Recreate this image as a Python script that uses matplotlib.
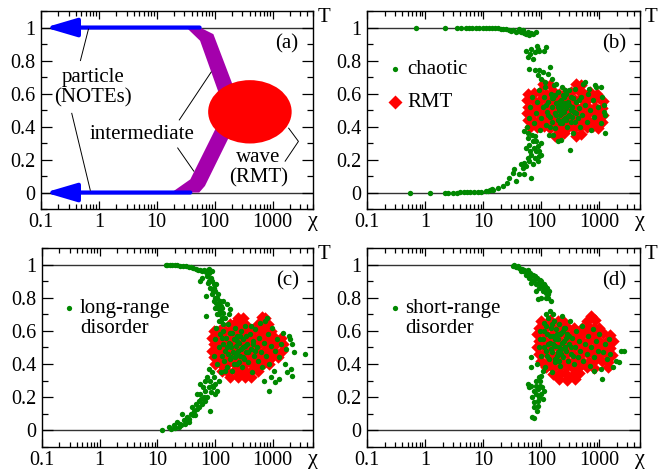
import numpy as np
import matplotlib
matplotlib.use("Agg")
import matplotlib.pyplot as plt
from matplotlib.patches import Ellipse, Polygon
from matplotlib.ticker import LogLocator, NullFormatter, MultipleLocator

plt.rcParams['font.family'] = ['Liberation Serif', 'DejaVu Serif']
plt.rcParams['font.size'] = 14.5

GREEN = '#008800'
RED = '#ff0000'
BLUE = '#0000ff'
PURPLE = '#a400ac'
SERIF = ['Liberation Serif', 'DejaVu Serif']

# ---- panel (a): schematic ----
a_band_upper = [(32.5, 1.0), (56, 1.0), (95, 0.96), (300, 0.5), (150, 0.5), (56, 0.92)]
a_band_lower = [(18, 0.0), (54, 0.0), (68, 0.04), (300, 0.5), (150, 0.5), (38, 0.08)]
a_arrow_top_end = 55
a_arrow_bottom_end = 38

# ---- panel (b): chaotic ----
b_green = [
    # T ~ 1
    (0.7, 1.0), (2.2, 1.0), (3.5, 1.0), (4.2, 1.0), (5.0, 1.0), (5.8, 1.0), (6.5, 1.0), (7.5, 1.0),
    (8.5, 1.0), (10, 1.0), (11, 0.998), (12.5, 0.998), (14, 0.997), (16, 0.996), (18, 0.995),
    (20, 0.993), (22, 0.99), (25, 0.99), (28, 0.985), (30, 0.98), (33, 0.985), (36, 0.975),
    (40, 0.98), (42, 0.99), (45, 0.97), (48, 0.985), (50, 0.965), (55, 0.96), (58, 0.975),
    (62, 0.955), (66, 0.965), (72, 0.96), (80, 0.97),
    # T ~ 0
    (0.55, 0.0), (1.2, 0.0), (2.2, 0.0), (2.5, 0.0), (3.0, 0.0), (3.6, 0.0), (4.0, 0.002),
    (4.6, 0.002), (5.2, 0.003), (6.0, 0.003), (7.0, 0.004), (8.0, 0.005), (9.0, 0.006),
    (11, 0.008), (12, 0.012), (13, 0.018), (14, 0.022), (15, 0.015), (18, 0.03),
    # rising branch
    (22, 0.04), (26, 0.058), (28, 0.088), (32, 0.118), (34, 0.14), (37, 0.07), (42, 0.11),
    (45, 0.17), (48, 0.15), (51, 0.18), (51, 0.11), (55, 0.16), (58, 0.21), (62, 0.19),
    (67, 0.23), (67, 0.09), (71, 0.17), (77, 0.21), (82, 0.25), (87, 0.19), (55, 0.27),
    (62, 0.29), (58, 0.33), (71, 0.31), (82, 0.31), (87, 0.28), (93, 0.25), (100, 0.30),
    (51, 0.37), (100, 0.23), (75, 0.27), (65, 0.25), (90, 0.22), (60, 0.36), (70, 0.35),
    (78, 0.34), (57, 0.40),
    # falling branch
    (55, 0.86), (58, 0.82), (67, 0.87), (77, 0.85), (87, 0.87), (93, 0.86), (122, 0.88),
    (71, 0.81), (62, 0.75), (77, 0.74), (93, 0.74), (107, 0.73), (140, 0.76), (131, 0.72),
    (87, 0.71), (100, 0.69), (114, 0.67), (150, 0.69), (85, 0.89), (110, 0.86), (65, 0.84),
    # cloud
    (62, 0.45), (65, 0.52), (70, 0.58), (75, 0.42), (80, 0.48), (85, 0.55), (90, 0.62),
    (95, 0.38), (100, 0.45), (105, 0.52), (110, 0.58), (115, 0.64), (120, 0.41), (125, 0.49),
    (130, 0.55), (135, 0.35), (140, 0.46), (145, 0.60), (150, 0.52), (155, 0.43), (160, 0.57),
    (165, 0.65), (170, 0.48), (175, 0.39), (180, 0.54), (190, 0.44), (195, 0.61), (200, 0.50),
    (210, 0.47), (215, 0.56), (220, 0.32), (225, 0.42), (230, 0.53), (240, 0.59), (250, 0.49),
    (255, 0.45), (260, 0.62), (270, 0.51), (280, 0.40), (290, 0.55), (300, 0.47), (310, 0.26),
    (320, 0.58), (330, 0.43), (340, 0.52), (350, 0.36), (360, 0.49), (380, 0.63), (400, 0.55),
    (420, 0.45), (440, 0.51), (460, 0.40), (480, 0.58), (500, 0.47), (530, 0.66), (560, 0.53),
    (600, 0.43), (630, 0.60), (680, 0.50), (720, 0.38), (760, 0.56), (820, 0.46), (880, 0.64),
    (950, 0.52), (1050, 0.42), (1100, 0.58), (1200, 0.49), (1260, 0.36), (195, 0.31),
    (850, 0.65), (570, 0.67), (1050, 0.64), (650, 0.63), (1200, 0.53), (1260, 0.47),
    (230, 0.64), (180, 0.66), (140, 0.40), (270, 0.60), (350, 0.57), (160, 0.35), (300, 0.62),
    (200, 0.55), (250, 0.58), (320, 0.50), (280, 0.46), (220, 0.51), (180, 0.47), (400, 0.48),
    (150, 0.57), (120, 0.53), (240, 0.44), (190, 0.52), (260, 0.54), (210, 0.42), (340, 0.46),
    (170, 0.59), (300, 0.53), (380, 0.43), (230, 0.48), (450, 0.56), (130, 0.47), (270, 0.44),
]
b_rmt = [
    (107, 0.655), (140, 0.65), (400, 0.655), (480, 0.65),
    (60, 0.60), (75, 0.605), (95, 0.61), (120, 0.60), (160, 0.615), (200, 0.60), (260, 0.605),
    (330, 0.61), (420, 0.62), (550, 0.60), (700, 0.61), (900, 0.595),
    (57, 0.56), (70, 0.565), (90, 0.555), (115, 0.57), (150, 0.56), (190, 0.565), (240, 0.555),
    (300, 0.57), (380, 0.56), (480, 0.575), (620, 0.56), (800, 0.565), (1000, 0.57), (1150, 0.555),
    (58, 0.52), (75, 0.515), (95, 0.525), (120, 0.52), (155, 0.51), (200, 0.525), (250, 0.52),
    (320, 0.515), (400, 0.52), (520, 0.525), (650, 0.515), (850, 0.52), (1100, 0.51),
    (57, 0.48), (70, 0.475), (90, 0.485), (115, 0.48), (150, 0.475), (190, 0.49), (240, 0.48),
    (300, 0.475), (380, 0.485), (480, 0.48), (620, 0.475), (800, 0.485), (1000, 0.48), (1150, 0.47),
    (60, 0.44), (75, 0.435), (95, 0.445), (120, 0.44), (160, 0.43), (200, 0.445), (260, 0.44),
    (330, 0.435), (420, 0.445), (550, 0.44), (700, 0.43), (900, 0.44), (1100, 0.425),
    (65, 0.40), (85, 0.395), (110, 0.405), (140, 0.39), (180, 0.40), (230, 0.395), (290, 0.40),
    (370, 0.39), (470, 0.40), (600, 0.395), (780, 0.405), (950, 0.39),
    (170, 0.345), (200, 0.35), (250, 0.36), (400, 0.345), (480, 0.355),
]

# ---- panel (c): long-range disorder ----
c_green = [
    (13.9, 1.0), (15, 1.0), (16.5, 0.998), (18, 0.997), (20, 0.996), (22, 0.995), (25, 0.993),
    (28, 0.99), (31, 0.99), (35, 0.985), (38, 0.983), (42, 0.98), (46, 0.975), (50, 0.97),
    (55, 0.968), (60, 0.96), (65, 0.965), (70, 0.955), (75, 0.97), (80, 0.95), (85, 0.96),
    (89, 0.96), (78, 0.975),
    (60, 0.92), (56, 0.90), (73, 0.93), (77, 0.89), (89, 0.90), (95, 0.88), (83, 0.86),
    (101, 0.84), (89, 0.82), (108, 0.80), (95, 0.78), (115, 0.76), (101, 0.74), (123, 0.72),
    (108, 0.70), (131, 0.68), (115, 0.66), (140, 0.78), (161, 0.76), (184, 0.73), (172, 0.70),
    (150, 0.68), (69, 0.69), (85, 0.92), (92, 0.84), (100, 0.80), (110, 0.74), (120, 0.78),
    (130, 0.74), (125, 0.66), (140, 0.64), (70, 0.81), (105, 0.88), (118, 0.70),
    (96, 0.86), (112, 0.82), (104, 0.77), (126, 0.75), (135, 0.71), (80, 0.90),
    (12.2, 0.0), (15.9, 0.02), (17, 0.01), (19.4, 0.03), (22, 0.05), (25, 0.04), (27, 0.10),
    (29, 0.06), (33, 0.08), (35, 0.05), (38, 0.10), (40, 0.14), (43, 0.12), (46, 0.16),
    (49, 0.13), (52, 0.18), (56, 0.22), (60, 0.16), (64, 0.20), (68, 0.24), (73, 0.20),
    (78, 0.26), (83, 0.30), (89, 0.27), (95, 0.32), (101, 0.28), (108, 0.24), (73, 0.32),
    (68, 0.30), (56, 0.28), (83, 0.12), (49, 0.22), (30, 0.04), (24, 0.02), (20, 0.015),
    (45, 0.09), (62, 0.26), (90, 0.35), (78, 0.37), (100, 0.22), (115, 0.30),
    (26, 0.03), (32, 0.06), (36, 0.07), (42, 0.09), (53, 0.14), (58, 0.19), (66, 0.18),
    (86, 0.23), (94, 0.26),
    (95, 0.45), (100, 0.55), (105, 0.62), (110, 0.40), (115, 0.50), (120, 0.58), (125, 0.35),
    (130, 0.45), (135, 0.52), (140, 0.60), (145, 0.42), (150, 0.48), (155, 0.56), (160, 0.38),
    (165, 0.64), (170, 0.46), (175, 0.53), (180, 0.43), (185, 0.59), (190, 0.50), (200, 0.36),
    (205, 0.47), (210, 0.55), (220, 0.62), (225, 0.44), (230, 0.51), (240, 0.40), (245, 0.57),
    (250, 0.48), (260, 0.53), (270, 0.45), (280, 0.60), (290, 0.38), (300, 0.50), (310, 0.55),
    (320, 0.43), (335, 0.63), (350, 0.47), (365, 0.52), (380, 0.41), (400, 0.58), (420, 0.49),
    (440, 0.35), (460, 0.54), (480, 0.45), (500, 0.61), (530, 0.50), (560, 0.42), (590, 0.56),
    (620, 0.47), (660, 0.38), (700, 0.53), (740, 0.66), (780, 0.45), (820, 0.58), (870, 0.40),
    (920, 0.51), (980, 0.62), (1050, 0.36), (1100, 0.48), (1200, 0.55), (1300, 0.44),
    (1400, 0.52), (1500, 0.59), (1650, 0.40), (1800, 0.35), (2070, 0.37), (2200, 0.33),
    (2350, 0.47), (3700, 0.46), (850, 0.24), (1100, 0.29), (1300, 0.31), (2000, 0.55),
    (2200, 0.52), (1900, 0.57), (700, 0.30), (950, 0.32), (1700, 0.49), (600, 0.65),
    (800, 0.68), (150, 0.36), (200, 0.59), (260, 0.41), (350, 0.57), (420, 0.63), (180, 0.52),
    (230, 0.46), (300, 0.44), (500, 0.48), (130, 0.56), (190, 0.44), (240, 0.54), (280, 0.49),
    (330, 0.51), (160, 0.50), (210, 0.40), (380, 0.47), (450, 0.52), (270, 0.57),
]
c_rmt = [
    (250, 0.675), (300, 0.68), (650, 0.685), (750, 0.68),
    (180, 0.64), (220, 0.645), (280, 0.64), (340, 0.635), (560, 0.64), (680, 0.645), (820, 0.64),
    (95, 0.60), (120, 0.605), (150, 0.60), (200, 0.61), (250, 0.60), (320, 0.605), (400, 0.60),
    (500, 0.61), (620, 0.60), (780, 0.605), (950, 0.60),
    (90, 0.56), (110, 0.565), (140, 0.555), (180, 0.56), (230, 0.565), (290, 0.555), (360, 0.56),
    (450, 0.565), (560, 0.555), (700, 0.56), (880, 0.565), (1100, 0.555), (1400, 0.56),
    (95, 0.52), (120, 0.515), (150, 0.525), (190, 0.52), (240, 0.515), (300, 0.525), (380, 0.52),
    (480, 0.515), (600, 0.525), (750, 0.52), (950, 0.515), (1200, 0.525), (1500, 0.52),
    (90, 0.48), (110, 0.485), (140, 0.475), (180, 0.48), (230, 0.485), (290, 0.475), (360, 0.48),
    (450, 0.485), (560, 0.475), (700, 0.48), (880, 0.485), (1100, 0.475), (1450, 0.48),
    (95, 0.44), (120, 0.435), (150, 0.445), (200, 0.44), (250, 0.435), (320, 0.445), (400, 0.44),
    (500, 0.435), (620, 0.445), (780, 0.44), (950, 0.435), (1250, 0.44),
    (100, 0.40), (130, 0.395), (170, 0.405), (220, 0.40), (280, 0.395), (350, 0.405), (440, 0.40),
    (550, 0.395), (700, 0.405), (880, 0.40),
    (130, 0.36), (170, 0.355), (220, 0.365), (280, 0.36), (350, 0.355), (440, 0.365), (550, 0.36),
    (180, 0.325), (250, 0.32), (330, 0.325), (420, 0.32),
]

# ---- panel (d): short-range disorder ----
d_green = [
    (32, 0.99), (34, 0.995), (36, 0.985), (39, 0.99), (41, 0.98), (44, 0.96), (47, 0.975),
    (50, 0.97), (54, 0.94), (58, 0.95), (62, 0.92), (66, 0.93), (70, 0.90), (75, 0.91),
    (80, 0.88), (86, 0.89), (92, 0.86), (98, 0.87), (105, 0.84), (112, 0.85), (120, 0.83),
    (128, 0.82), (86, 0.79), (98, 0.80), (120, 0.80), (137, 0.84), (80, 0.84), (66, 0.89),
    (146, 0.78), (55, 0.96), (60, 0.97), (72, 0.94), (85, 0.92), (100, 0.90), (110, 0.88),
    (125, 0.86), (48, 0.96), (64, 0.95), (78, 0.93), (94, 0.91), (115, 0.87), (132, 0.80),
    (58, 0.28), (62, 0.26), (66, 0.27), (75, 0.24), (80, 0.22), (86, 0.25), (70, 0.20),
    (75, 0.17), (92, 0.20), (98, 0.22), (105, 0.19), (86, 0.15), (75, 0.14), (70, 0.08),
    (112, 0.24), (92, 0.32), (80, 0.30), (66, 0.44), (66, 0.38), (74, 0.075), (85, 0.12),
    (95, 0.27), (100, 0.33), (88, 0.18), (82, 0.27), (96, 0.30), (104, 0.26),
    (85, 0.40), (90, 0.50), (95, 0.60), (100, 0.45), (105, 0.55), (110, 0.65), (115, 0.38),
    (120, 0.48), (125, 0.58), (130, 0.68), (135, 0.43), (140, 0.53), (145, 0.62), (150, 0.35),
    (155, 0.47), (160, 0.57), (165, 0.66), (170, 0.41), (175, 0.51), (180, 0.61), (185, 0.45),
    (190, 0.55), (200, 0.64), (210, 0.39), (215, 0.49), (220, 0.59), (230, 0.69), (240, 0.44),
    (250, 0.54), (260, 0.62), (270, 0.48), (280, 0.58), (290, 0.42), (300, 0.52), (310, 0.66),
    (320, 0.46), (340, 0.56), (360, 0.40), (380, 0.50), (400, 0.60), (420, 0.44), (440, 0.54),
    (470, 0.48), (500, 0.63), (530, 0.42), (560, 0.52), (600, 0.46), (640, 0.57), (680, 0.39),
    (720, 0.50), (770, 0.61), (820, 0.44), (880, 0.54), (940, 0.48), (1000, 0.58), (1070, 0.37),
    (1150, 0.47), (1250, 0.52), (1350, 0.43), (1450, 0.55), (1550, 0.46), (1700, 0.38),
    (1940, 0.42), (2150, 0.41), (2350, 0.48), (2650, 0.48), (1120, 0.31), (820, 0.36),
    (120, 0.70), (140, 0.72), (160, 0.70), (110, 0.60), (130, 0.52), (150, 0.64), (170, 0.55),
    (190, 0.47), (210, 0.58), (250, 0.62), (200, 0.50), (175, 0.43), (230, 0.53), (125, 0.45),
    (270, 0.56), (330, 0.50), (140, 0.57), (110, 0.50), (95, 0.55), (105, 0.36), (160, 0.52),
    (185, 0.58), (220, 0.46), (260, 0.50), (300, 0.57), (350, 0.45), (120, 0.63), (145, 0.49),
    (200, 0.42), (240, 0.60),
]
d_rmt = [
    (720, 0.69),
    (100, 0.66), (140, 0.665), (190, 0.66), (250, 0.655), (600, 0.66), (850, 0.665),
    (90, 0.62), (120, 0.625), (160, 0.62), (210, 0.615), (280, 0.625), (360, 0.62), (500, 0.615),
    (650, 0.625), (800, 0.62), (1000, 0.615),
    (85, 0.58), (110, 0.585), (145, 0.575), (190, 0.58), (250, 0.585), (320, 0.575), (420, 0.58),
    (550, 0.585), (700, 0.575), (900, 0.58), (1150, 0.585), (1500, 0.575),
    (90, 0.54), (120, 0.535), (160, 0.545), (210, 0.54), (280, 0.535), (360, 0.545), (480, 0.54),
    (620, 0.535), (800, 0.545), (1000, 0.54), (1300, 0.535), (1700, 0.54),
    (85, 0.50), (110, 0.505), (145, 0.495), (190, 0.50), (250, 0.505), (320, 0.495), (420, 0.50),
    (550, 0.505), (700, 0.495), (900, 0.50), (1150, 0.505), (1500, 0.495),
    (90, 0.46), (120, 0.465), (160, 0.455), (210, 0.46), (280, 0.465), (360, 0.455), (480, 0.46),
    (620, 0.465), (800, 0.455), (1000, 0.46), (1300, 0.465), (1650, 0.455),
    (100, 0.42), (130, 0.415), (170, 0.425), (220, 0.42), (290, 0.415), (380, 0.425), (500, 0.42),
    (650, 0.415), (850, 0.425), (1100, 0.42), (1400, 0.415),
    (120, 0.38), (160, 0.375), (210, 0.385), (270, 0.38), (350, 0.375), (450, 0.385), (600, 0.38),
    (800, 0.375), (1400, 0.385),
    (160, 0.34), (210, 0.345), (270, 0.34), (350, 0.335), (450, 0.345),
    (200, 0.31), (280, 0.305), (380, 0.31),
]

XTICKS = [0.1, 1, 10, 100, 1000]
XTICKLABELS = ['0.1', '1', '10', '100', '1000']
YTICKS = [0, 0.2, 0.4, 0.6, 0.8, 1]
YTICKLABELS = ['0', '0.2', '0.4', '0.6', '0.8', '1']


def style_axes(ax, label):
    ax.set_xscale('log')
    ax.set_xlim(0.1, 5000)
    ax.set_ylim(-0.1, 1.1)
    ax.set_xticks(XTICKS)
    ax.set_xticklabels(XTICKLABELS, family=SERIF)
    ax.xaxis.set_minor_locator(LogLocator(base=10, subs=range(2, 10), numticks=30))
    ax.xaxis.set_minor_formatter(NullFormatter())
    ax.set_yticks(YTICKS)
    ax.set_yticklabels(YTICKLABELS, family=SERIF)
    ax.yaxis.set_minor_locator(MultipleLocator(0.1))
    ax.tick_params(which='both', direction='in', top=True, right=True, width=0.9)
    ax.tick_params(axis='y', which='major', length=8, pad=4)
    ax.tick_params(axis='y', which='minor', length=4.5)
    ax.tick_params(axis='x', which='major', length=6, pad=3)
    ax.tick_params(axis='x', which='minor', length=3.5)
    for sp in ax.spines.values():
        sp.set_linewidth(1.0)
    ax.axhline(0, color='#333333', lw=1.0, zorder=1)
    ax.axhline(1, color='#333333', lw=1.0, zorder=1)
    ax.text(0.905, 0.835, label, transform=ax.transAxes, ha='center', va='center', fontsize=15)
    ax.text(1.04, 0.965, 'T', transform=ax.transAxes, ha='center', va='center', fontsize=15,
            family=SERIF)
    ax.annotate('χ', xy=(1, 0), xycoords='axes fraction', xytext=(0, -2),
                textcoords='offset points', ha='center', va='top', fontsize=16, family=SERIF)


def scatter_panel(ax, green, rmt):
    rx, ry = np.array(rmt).T
    gx, gy = np.array(green).T
    ax.scatter(rx, ry, s=40, marker='D', color=RED, linewidths=0, zorder=2)
    ax.scatter(gx, gy, s=15, marker='o', color=GREEN, linewidths=0, zorder=3)


fig = plt.figure(figsize=(6.58, 4.74), dpi=100)
ax_a = fig.add_axes([0.0623, 0.559, 0.4134, 0.4177])
ax_b = fig.add_axes([0.5578, 0.559, 0.4149, 0.4177])
ax_c = fig.add_axes([0.0638, 0.057, 0.4119, 0.4198])
ax_d = fig.add_axes([0.5578, 0.057, 0.4149, 0.4198])

# (a) schematic
style_axes(ax_a, '(a)')
ax_a.add_patch(Polygon(a_band_upper, closed=True, color=PURPLE, lw=0, zorder=2))
ax_a.add_patch(Polygon(a_band_lower, closed=True, color=PURPLE, lw=0, zorder=2))
ax_a.add_patch(Ellipse((0.768, 0.491), 0.307, 0.320, transform=ax_a.transAxes,
                       color=RED, lw=0, zorder=3))
arrow = dict(arrowstyle='-|>,head_length=0.95,head_width=0.28', color=BLUE, lw=3,
             shrinkA=0, shrinkB=0, mutation_scale=20)
ax_a.annotate('', xy=(0.118, 1), xytext=(a_arrow_top_end, 1), arrowprops=arrow, zorder=4)
ax_a.annotate('', xy=(0.118, 0), xytext=(a_arrow_bottom_end, 0), arrowprops=arrow, zorder=4)
thin = dict(color='black', lw=0.7, zorder=4)
ax_a.plot([0.66, 0.48], [0.99, 0.80], **thin)
ax_a.plot([0.34, 0.71], [0.48, 0.014], **thin)
ax_a.plot([24.5, 87], [0.44, 0.73], **thin)
ax_a.plot([23, 43.5], [0.27, 0.13], **thin)
ax_a.plot([1900, 2800, 1650], [0.39, 0.31, 0.19], **thin)
ax_a.text(0.19, 0.612, 'particle\n(NOTEs)', transform=ax_a.transAxes, ha='center',
          va='center', fontsize=15, linespacing=1.05)
ax_a.text(0.372, 0.374, 'intermediate', transform=ax_a.transAxes, ha='center',
          va='center', fontsize=15)
ax_a.text(0.80, 0.207, 'wave\n(RMT)', transform=ax_a.transAxes, ha='center',
          va='center', fontsize=15, linespacing=1.1)

# (b) chaotic
style_axes(ax_b, '(b)')
scatter_panel(ax_b, b_green, b_rmt)
ax_b.plot([0.103], [0.707], 'o', ms=3.8, color=GREEN, mec='none', transform=ax_b.transAxes)
ax_b.plot([0.103], [0.54], 'D', ms=7.5, color=RED, mec='none', transform=ax_b.transAxes)
ax_b.text(0.147, 0.707, 'chaotic', transform=ax_b.transAxes, ha='left', va='center', fontsize=15)
ax_b.text(0.147, 0.54, 'RMT', transform=ax_b.transAxes, ha='left', va='center', fontsize=15)

# (c) long-range disorder
style_axes(ax_c, '(c)')
scatter_panel(ax_c, c_green, c_rmt)
ax_c.plot([0.10], [0.70], 'o', ms=3.8, color=GREEN, mec='none', transform=ax_c.transAxes)
ax_c.text(0.14, 0.645, 'long-range\ndisorder', transform=ax_c.transAxes, ha='left',
          va='center', fontsize=15, linespacing=1.1)

# (d) short-range disorder
style_axes(ax_d, '(d)')
scatter_panel(ax_d, d_green, d_rmt)
ax_d.plot([0.103], [0.70], 'o', ms=3.8, color=GREEN, mec='none', transform=ax_d.transAxes)
ax_d.text(0.139, 0.645, 'short-range\ndisorder', transform=ax_d.transAxes, ha='left',
          va='center', fontsize=15, linespacing=1.1)

fig.savefig('out.png', dpi=100)
